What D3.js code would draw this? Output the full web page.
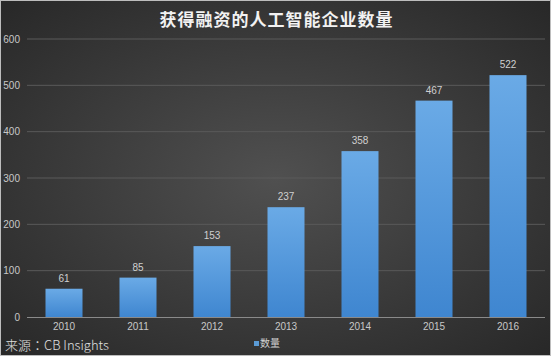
<!DOCTYPE html>
<html><head><meta charset="utf-8">
<script src="https://cdn.jsdelivr.net/npm/d3@7"></script>
<style>html,body{margin:0;padding:0;background:#fff;}svg{display:block;}</style>
</head><body>
<script>
const categories = ["2010","2011","2012","2013","2014","2015","2016"];
const values = [61,85,153,237,358,467,522];
const yTicks = [0,100,200,300,400,500,600];
const title = "获得融资的人工智能企业数量";
const seriesName = "数量";
const source = "来源：CB Insights";

const W = 551, H = 356;
const svg = d3.select("body").append("svg").attr("width", W).attr("height", H);
const defs = svg.append("defs");
const bg = defs.append("radialGradient").attr("id","bg").attr("cx","50%").attr("cy","50%").attr("r","70%");
bg.append("stop").attr("offset","0%").attr("stop-color","#505050");
bg.append("stop").attr("offset","100%").attr("stop-color","#282828");
const bar = defs.append("linearGradient").attr("id","bar").attr("x1",0).attr("y1",0).attr("x2",0).attr("y2",1);
bar.append("stop").attr("offset","0%").attr("stop-color","#6aaae6");
bar.append("stop").attr("offset","100%").attr("stop-color","#3f86d0");

svg.append("rect").attr("x",0.5).attr("y",0.5).attr("width",W-1).attr("height",H-1)
  .attr("fill","url(#bg)").attr("stroke","#bdbdbd");

const font = "'Liberation Sans', Arial, sans-serif";
const cjk = "'Noto Sans CJK SC', sans-serif";

const x = d3.scaleBand().domain(categories).range([27,545]).paddingInner(0.5).paddingOuter(0.25);
const y = d3.scaleLinear().domain([0,600]).range([317,39]);

svg.append("g").selectAll("line").data(yTicks.filter(d=>d>0)).join("line")
  .attr("x1",27).attr("x2",545).attr("y1",d=>y(d)).attr("y2",d=>y(d))
  .attr("stroke","#5a5a5a").attr("stroke-width",1);

const yAxis = d3.axisLeft(y).tickValues(yTicks).tickSize(0).tickPadding(0);
const gy = svg.append("g").attr("transform","translate(20,0)").call(yAxis);
gy.select(".domain").remove();
gy.selectAll("text").attr("fill","#c8c8c8").style("font-family",font).style("font-size","10px");

svg.append("g").selectAll("rect").data(values).join("rect")
  .attr("x",(d,i)=>x(categories[i])).attr("width",x.bandwidth())
  .attr("y",d=>y(d)).attr("height",d=>y(0)-y(d)).attr("fill","url(#bar)");

svg.append("line").attr("x1",27).attr("x2",545).attr("y1",y(0)+0.5).attr("y2",y(0)+0.5)
  .attr("stroke","#8a8a8a").attr("stroke-width",1);

const xAxis = d3.axisBottom(x).tickSize(0).tickPadding(6);
const gx = svg.append("g").attr("transform",`translate(0,${y(0)})`).call(xAxis);
gx.select(".domain").remove();
gx.selectAll("text").attr("fill","#c8c8c8").style("font-family",font).style("font-size","10px");

svg.append("g").selectAll("text").data(values).join("text")
  .attr("x",(d,i)=>x(categories[i])+x.bandwidth()/2).attr("y",d=>y(d)-7)
  .attr("text-anchor","middle").attr("fill","#d0d0d0")
  .style("font-family",font).style("font-size","10px").text(d=>d);

svg.append("text").attr("x",W/2+1).attr("y",26).attr("text-anchor","middle")
  .attr("fill","#f2f2f2").style("font-family",cjk).style("font-size","17px").style("font-weight","bold")
  .style("letter-spacing","1px").text(title);

svg.append("text").attr("x",5).attr("y",350).attr("fill","#e0e0e0")
  .style("font-family","'Noto Sans CJK TC', sans-serif").style("font-size","13px").style("font-weight","300").text(source);

svg.append("rect").attr("x",254).attr("y",341).attr("width",5).attr("height",5).attr("fill","#5b9bd5");
svg.append("text").attr("x",260).attr("y",347).attr("fill","#d0d0d0")
  .style("font-family",cjk).style("font-size","10px").text(seriesName);
</script>
</body></html>
